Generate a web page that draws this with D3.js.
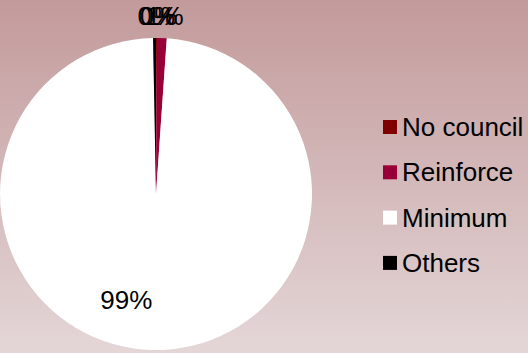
<!DOCTYPE html>
<html>
<head>
<meta charset="utf-8">
<script src="https://cdn.jsdelivr.net/npm/d3@7/dist/d3.min.js"></script>
<style>
  html, body { margin: 0; padding: 0; }
  body { width: 528px; height: 353px; overflow: hidden; }
  svg { display: block; font-family: "Liberation Sans", Arial, sans-serif; }
</style>
</head>
<body>
<svg id="chart" width="528" height="353"></svg>
<script>
// Share of responses per option
const categories = ["No council", "Reinforce", "Minimum", "Others"];
const shares = [0.1, 1.0, 98.6, 0.3];
const sliceColors = ["#800000", "#990038", "#ffffff", "#000000"];

const width = 528, height = 353;
const svg = d3.select("#chart");

// Background: vertical rose gradient
const defs = svg.append("defs");
const grad = defs.append("linearGradient")
  .attr("id", "bg").attr("x1", 0).attr("y1", 0).attr("x2", 0).attr("y2", 1);
grad.append("stop").attr("offset", "0%").attr("stop-color", "#c39a9b");
grad.append("stop").attr("offset", "100%").attr("stop-color", "#e4d6d7");
svg.append("rect").attr("width", width).attr("height", height).attr("fill", "url(#bg)");

const data = categories.map((c, i) => ({ name: c, value: shares[i], color: sliceColors[i] }));
const total = d3.sum(shares);
const fmt = v => Math.round(v / total * 100) + "%";

const cx = 156, cy = 194, r = 156;
const pie = d3.pie().sort(null).value(d => d.value);
const arc = d3.arc().innerRadius(0).outerRadius(r);
const arcs = pie(data);

const g = svg.append("g").attr("transform", `translate(${cx},${cy})`);
g.selectAll("path.slice")
  .data(arcs)
  .join("path")
  .attr("class", "slice")
  .attr("d", arc)
  .attr("fill", d => d.data.color);

// Data labels: tiny slices outside the rim, large slices inside
const outsideArc = d3.arc().innerRadius(r + 22).outerRadius(r + 22);
const insideArc = d3.arc().innerRadius(r * 0.68).outerRadius(r * 0.68);
const insideShift = -27, outsideShift = 2;
g.selectAll("text.lbl")
  .data(arcs)
  .join("text")
  .attr("class", "lbl")
  .attr("text-anchor", "middle")
  .attr("font-size", 26)
  .attr("fill", "#000")
  .attr("transform", d => {
    const big = d.endAngle - d.startAngle > 0.5;
    const [x, y] = (big ? insideArc : outsideArc).centroid(d);
    return `translate(${x + (big ? insideShift : outsideShift)},${y + 9})`;
  })
  .text(d => fmt(d.data.value));

// Legend
const legend = svg.append("g").attr("transform", "translate(383,127)");
const row = legend.selectAll("g")
  .data(data)
  .join("g")
  .attr("transform", (d, i) => `translate(0,${i * 45.3})`);
row.append("rect")
  .attr("x", 0).attr("y", -7)
  .attr("width", 14).attr("height", 14)
  .attr("fill", d => d.color);
row.append("text")
  .attr("x", 19).attr("y", 9)
  .attr("font-size", 26)
  .attr("fill", "#000")
  .text(d => d.name);
</script>
</body>
</html>
